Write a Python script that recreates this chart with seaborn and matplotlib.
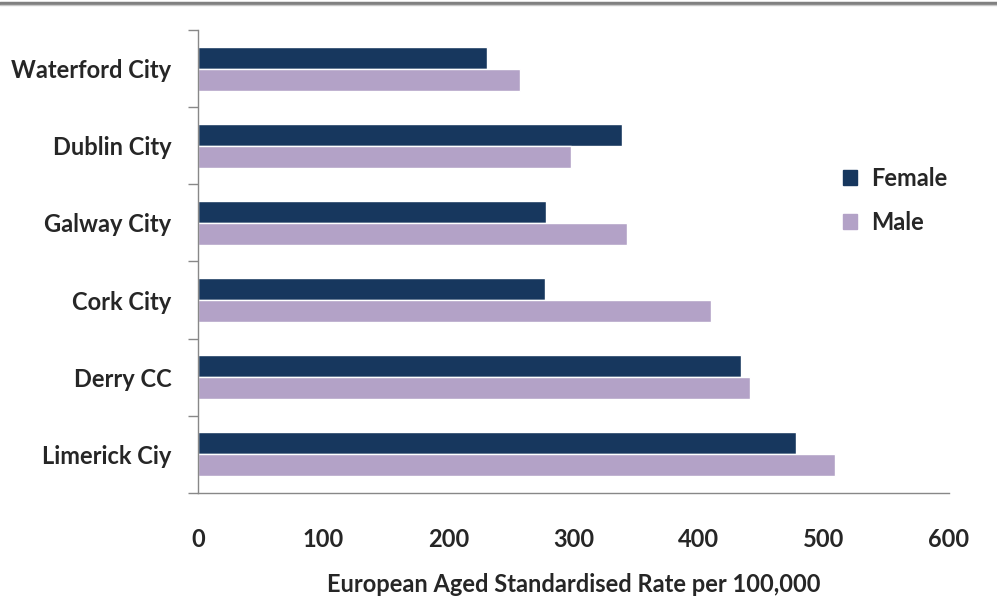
import matplotlib
matplotlib.use("Agg")
import matplotlib.pyplot as plt
import seaborn as sns
import pandas as pd
import numpy as np
from matplotlib.lines import Line2D

# Dane
cities = ["Waterford City", "Dublin City", "Galway City", "Cork City", "Derry CC", "Limerick Ciy"]
female = [231, 339, 278, 277, 434, 478]
male = [257, 298, 343, 410, 441, 509]
sexes = ["Female", "Male"]
colors = ["#17375E", "#B3A2C7"]
x_ticks = [0, 100, 200, 300, 400, 500, 600]

df = pd.DataFrame({
    "city": cities * 2,
    "sex": ["Female"] * len(cities) + ["Male"] * len(cities),
    "rate": female + male,
})

sns.set_style("white")
plt.rcParams["font.family"] = ["Lato", "DejaVu Sans"]

fig = plt.figure(figsize=(9.97, 5.96), dpi=100)
ax = fig.add_axes([0.1986, 0.1728, 0.7533, 0.7769])

sns.barplot(data=df, y="city", x="rate", hue="sex", order=cities, hue_order=sexes,
            palette=colors, width=0.57, saturation=1, ax=ax, orient="h")

ax.set_xlim(0, 600)
ax.set_ylim(len(cities) - 0.5, -0.5)
ax.set_xticks(x_ticks)
ax.set_xticklabels([str(t) for t in x_ticks], fontsize=17, fontweight="bold")
ax.set_yticks(np.arange(len(cities)))
ax.set_yticklabels(cities, fontsize=17, fontweight="bold")
ax.set_yticks(np.arange(len(cities) + 1) - 0.5, minor=True)

ax.tick_params(axis="x", which="major", direction="out", length=6, width=1, color="#888888", pad=19)
ax.tick_params(axis="y", which="major", length=0, pad=19)
ax.tick_params(axis="y", which="minor", direction="out", length=7, width=1, color="#888888", left=True)

ax.set_xlabel("European Aged Standardised Rate per 100,000", fontsize=17, fontweight="bold", labelpad=16)
ax.set_ylabel("")

for s in ["top", "right"]:
    ax.spines[s].set_visible(False)
for s in ["left", "bottom"]:
    ax.spines[s].set_color("#888888")
    ax.spines[s].set_linewidth(1)

# Legenda
handles = [plt.Rectangle((0, 0), 1, 1, color=c) for c in colors]
ax.legend(handles, sexes, frameon=False, loc="upper left", bbox_to_anchor=(0.83, 0.75),
          handlelength=0.6, handleheight=0.6, handletextpad=0.6, labelspacing=0.9,
          prop={"size": 17, "weight": "bold"})

# Linia u góry
fig.add_artist(Line2D([0, 1], [0.9950, 0.9950], color="#808080", linewidth=2.5, transform=fig.transFigure))
fig.add_artist(Line2D([0, 1], [0.9915, 0.9915], color="#c8c8c8", linewidth=1, transform=fig.transFigure))

fig.savefig("out.png", dpi=100)
